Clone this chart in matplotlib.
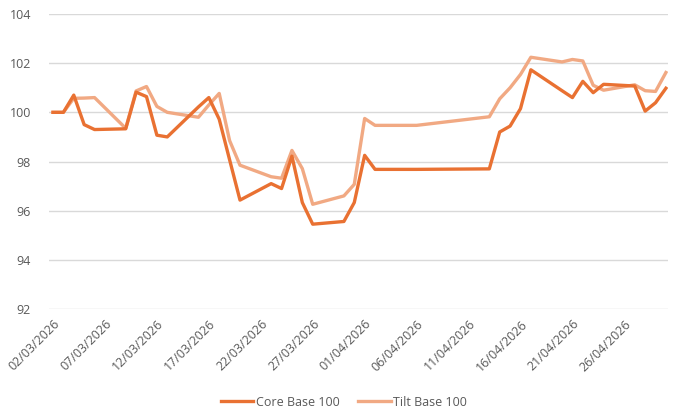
import pandas as pd
import matplotlib.pyplot as plt
import matplotlib.dates as mdates

dates = ['02/03/2026', '03/03/2026', '04/03/2026', '05/03/2026', '06/03/2026',
         '09/03/2026', '10/03/2026', '11/03/2026', '12/03/2026', '13/03/2026',
         '16/03/2026', '17/03/2026', '18/03/2026', '19/03/2026', '20/03/2026',
         '23/03/2026', '24/03/2026', '25/03/2026', '26/03/2026', '27/03/2026',
         '30/03/2026', '31/03/2026', '01/04/2026', '02/04/2026', '06/04/2026',
         '13/04/2026', '14/04/2026', '15/04/2026', '16/04/2026', '17/04/2026',
         '20/04/2026', '21/04/2026', '22/04/2026', '23/04/2026', '24/04/2026',
         '27/04/2026', '28/04/2026', '29/04/2026', '30/04/2026']

core = [100.0, 100.0, 100.7, 99.5, 99.3,
        99.33, 100.82, 100.64, 99.07, 99.0,
        100.22, 100.6, 99.72, 98.07, 96.43,
        97.1, 96.9, 98.22, 96.33, 95.45,
        95.56, 96.33, 98.25, 97.68, 97.68,
        97.7, 99.2, 99.44, 100.15, 101.73,
        100.88, 100.6, 101.26, 100.8, 101.14,
        101.07, 100.05, 100.39, 100.98]

tilt = [100.0, 100.0, 100.57, 100.58, 100.6,
        99.35, 100.87, 101.05, 100.24, 100.0,
        99.8, 100.3, 100.77, 98.85, 97.85,
        97.38, 97.32, 98.45, 97.71, 96.26,
        96.6, 97.07, 99.75, 99.47, 99.47,
        99.82, 100.55, 101.0, 101.54, 102.24,
        102.05, 102.15, 102.09, 101.1, 100.9,
        101.12, 100.88, 100.85, 101.62]

x = pd.to_datetime(dates, format='%d/%m/%Y')
ticks = pd.date_range('2026-03-02', periods=12, freq='5D')

plt.rcParams['font.family'] = ['Open Sans', 'DejaVu Sans']

fig = plt.figure(figsize=(6.78, 4.11), dpi=100)
ax = fig.add_axes([49 / 678, 1 - 309 / 411, 619 / 678, 295 / 411])

ax.plot(x, core, color='#E97132', lw=2.4, label='Core Base 100', zorder=3)
ax.plot(x, tilt, color='#F1A983', lw=2.4, label='Tilt Base 100', zorder=2)

start = pd.Timestamp('2026-03-02')
ax.set_xlim(start - pd.Timedelta(days=0.385), start + pd.Timedelta(days=59.2))
ax.set_ylim(92, 104)
ax.set_yticks(range(92, 105, 2))
ax.set_xticks(ticks)
ax.xaxis.set_major_formatter(mdates.DateFormatter('%d/%m/%Y'))

ax.grid(axis='y', color='#D9D9D9', lw=1)
ax.set_axisbelow(True)
for s in ax.spines.values():
    s.set_visible(False)
ax.tick_params(axis='both', length=0, colors='#595959', labelsize=9)
ax.tick_params(axis='y', pad=13)
ax.tick_params(axis='x', pad=6)
for lab in ax.get_xticklabels():
    lab.set_rotation(45)
    lab.set_ha('right')
    lab.set_rotation_mode('anchor')

fig.legend(loc='center', bbox_to_anchor=(344 / 678, 1 - 402 / 411), ncol=2,
           frameon=False, fontsize=9, labelcolor='#595959',
           handlelength=2.6, handletextpad=0.2, columnspacing=1.5)

fig.savefig('out.png', dpi=100)
